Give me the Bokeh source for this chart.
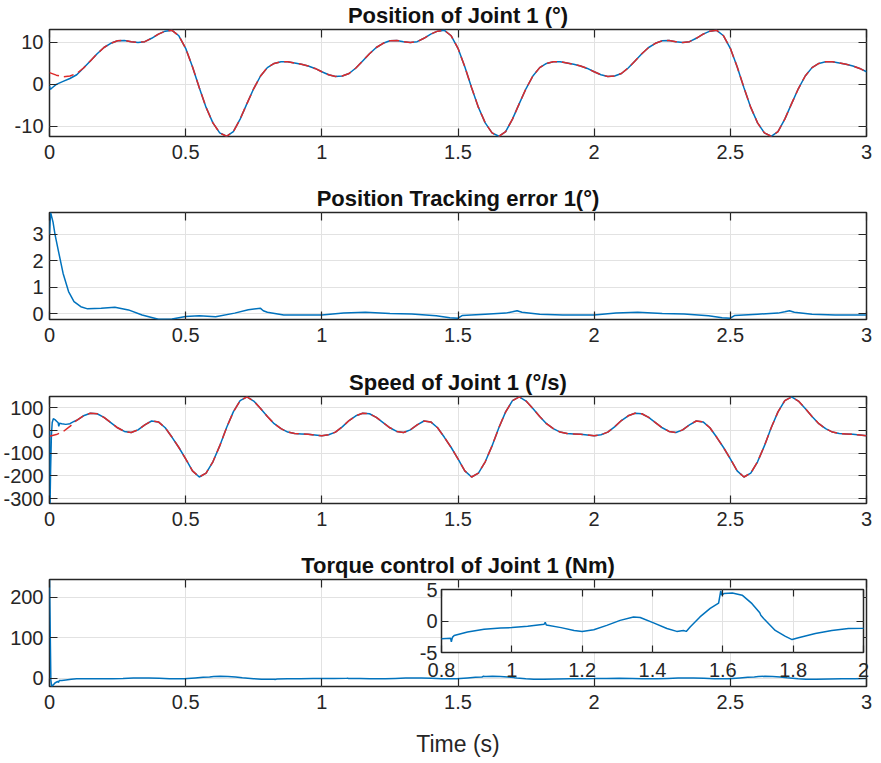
import numpy as np
from bokeh.plotting import figure
from bokeh.layouts import column
from bokeh.models import (Range1d, FixedTicker, LinearAxis, NumeralTickFormatter,
                          CustomLabelingPolicy)
from bokeh.embed import file_html
from bokeh.resources import INLINE

# ---------------- data ----------------
# reference trajectory sampled every 0.025 s over 0..3 s
t_ref = np.round(np.linspace(0.0, 3.0, 121), 3)

pos_ref = [
    2.8, 2.2, 1.8, 2.0, 2.6, 3.9, 5.6, 7.3, 8.8, 9.8,
    10.4, 10.5, 10.2, 10.0, 10.2, 11.0, 12.0, 12.7, 12.9, 11.6,
    8.6, 4.2, -0.8, -5.5, -9.2, -11.6, -12.4, -11.3, -8.3, -4.6,
    -1.0, 2.0, 4.0, 5.0, 5.4, 5.4, 5.1, 4.8, 4.4, 3.8,
    3.0, 2.3, 1.9, 2.0, 2.6, 3.9, 5.6, 7.3, 8.8, 9.8,
    10.4, 10.5, 10.2, 10.0, 10.2, 11.0, 12.0, 12.7, 12.9, 11.6,
    8.6, 4.2, -0.8, -5.5, -9.2, -11.6, -12.4, -11.3, -8.3, -4.6,
    -1.0, 2.0, 4.0, 5.0, 5.4, 5.4, 5.1, 4.8, 4.4, 3.8,
    3.0, 2.3, 1.9, 2.0, 2.6, 3.9, 5.6, 7.3, 8.8, 9.8,
    10.4, 10.5, 10.2, 10.0, 10.2, 11.0, 12.0, 12.7, 12.9, 11.6,
    8.6, 4.2, -0.8, -5.5, -9.2, -11.6, -12.4, -11.3, -8.3, -4.6,
    -1.0, 2.0, 4.0, 5.0, 5.4, 5.4, 5.1, 4.8, 4.4, 3.8,
    3.0,
]

speed_ref = [
    -25, -18, -5, 18, 45, 65, 76, 74, 58, 35,
    12, -4, -9, 3, 25, 42, 38, 12, -30, -75,
    -125, -178, -205, -188, -138, -68, 12, 82, 132, 148,
    130, 97, 62, 30, 8, -7, -13, -15, -17, -20,
    -23, -19, -7, 16, 44, 65, 76, 74, 58, 35,
    12, -4, -9, 3, 25, 42, 38, 12, -30, -75,
    -125, -178, -205, -188, -138, -68, 12, 82, 132, 148,
    130, 97, 62, 30, 8, -7, -13, -15, -17, -20,
    -23, -19, -7, 16, 44, 65, 76, 74, 58, 35,
    12, -4, -9, 3, 25, 42, 38, 12, -30, -75,
    -125, -178, -205, -188, -138, -68, 12, 82, 132, 148,
    130, 97, 62, 30, 8, -7, -13, -15, -17, -20,
    -23,
]

# measured joint response during start-up (time, value); afterwards it follows the reference
pos_start = [(0.0, -0.4), (0.003, -1.2), (0.01, -0.8), (0.025, 0.0), (0.05, 0.7),
             (0.075, 1.4), (0.1, 2.3)]
speed_start = [(0.0, 0), (0.002, -322), (0.004, -180), (0.007, -20), (0.01, 35),
               (0.014, 52), (0.02, 48), (0.027, 40), (0.032, 34), (0.034, 18),
               (0.037, 32), (0.045, 30), (0.06, 27), (0.075, 30), (0.09, 40), (0.1, 45)]

err_samples = [
    (0.0, 3.0), (0.004, 3.81), (0.013, 3.45), (0.02, 3.0), (0.033, 2.35), (0.05, 1.52),
    (0.07, 0.84), (0.09, 0.46), (0.115, 0.27), (0.14, 0.19), (0.19, 0.21), (0.24, 0.25),
    (0.29, 0.15), (0.34, -0.04), (0.4, -0.2), (0.45, -0.19), (0.5, -0.1), (0.55, -0.07),
    (0.61, -0.11), (0.68, 0.03), (0.73, 0.16), (0.775, 0.21), (0.785, 0.12), (0.8, 0.06),
    (0.86, -0.04), (0.93, -0.04), (1.0, -0.04), (1.08, 0.03), (1.16, 0.06), (1.25, 0.02),
    (1.33, 0.0), (1.42, -0.07), (1.47, -0.14), (1.5, -0.16), (1.515, -0.06), (1.6, -0.01),
    (1.675, 0.03), (1.7, 0.08), (1.717, 0.12), (1.735, 0.06), (1.8, -0.01), (1.885, -0.04),
    (2.0, -0.04), (2.08, 0.03), (2.16, 0.06), (2.25, 0.02), (2.33, 0.0), (2.42, -0.07),
    (2.47, -0.14), (2.5, -0.16), (2.515, -0.06), (2.6, -0.01), (2.675, 0.03), (2.7, 0.08),
    (2.717, 0.12), (2.735, 0.06), (2.8, -0.01), (2.885, -0.04), (3.0, -0.04),
]

torque_samples = [
    (0.0, 244), (0.002, 150), (0.005, -5), (0.008, -20.5), (0.012, -18), (0.02, -12),
    (0.03, -8), (0.033, -11), (0.036, -6), (0.045, -6), (0.06, -4.5), (0.08, -3),
    (0.1, -1.6), (0.14, -1.3), (0.177, -1.5), (0.2, -1.65), (0.233, -1.4), (0.27, -0.7),
    (0.308, 0.1), (0.346, 0.65), (0.365, 0.55), (0.403, -0.3), (0.441, -1.2), (0.469, -1.65),
    (0.496, -1.6), (0.507, -0.95), (0.535, 0.65), (0.564, 2.0), (0.588, 2.85), (0.603, 4.0),
    (0.627, 4.45), (0.655, 4.1), (0.683, 2.75), (0.708, 0.9), (0.749, -1.5), (0.778, -2.45),
    (0.797, -2.9), (0.8, -2.8), (0.826, -2.75), (0.828, -3.3), (0.831, -2.6), (0.836, -2.3),
    (0.874, -1.75), (0.921, -1.3), (0.968, -1.1), (1.0, -1.05), (1.045, -0.85), (1.092, -0.5),
    (1.095, -0.2), (1.098, -0.65), (1.14, -1.05), (1.177, -1.5), (1.2, -1.65), (1.233, -1.4),
    (1.27, -0.7), (1.308, 0.1), (1.346, 0.65), (1.365, 0.55), (1.403, -0.3), (1.441, -1.2),
    (1.469, -1.65), (1.488, -1.5), (1.496, -1.65), (1.507, -0.95), (1.535, 0.65), (1.564, 2.0),
    (1.588, 2.85), (1.594, 4.8), (1.597, 4.1), (1.603, 4.35), (1.627, 4.45), (1.655, 4.1),
    (1.683, 2.75), (1.705, 1.3), (1.708, 0.9), (1.716, 0.4), (1.749, -1.5), (1.778, -2.45),
    (1.797, -2.95), (1.815, -2.65), (1.863, -2.0), (1.91, -1.5), (1.957, -1.2), (2.0, -1.15),
    (2.045, -0.85), (2.092, -0.55), (2.14, -1.05), (2.177, -1.5), (2.2, -1.65), (2.233, -1.4),
    (2.27, -0.7), (2.308, 0.1), (2.346, 0.65), (2.365, 0.55), (2.403, -0.3), (2.441, -1.2),
    (2.469, -1.65), (2.496, -1.6), (2.507, -0.95), (2.535, 0.65), (2.564, 2.0), (2.588, 2.85),
    (2.603, 4.0), (2.627, 4.45), (2.655, 4.1), (2.683, 2.75), (2.708, 0.9), (2.749, -1.5),
    (2.778, -2.45), (2.797, -2.95), (2.815, -2.65), (2.863, -2.0), (2.91, -1.5), (2.957, -1.2),
    (3.0, -1.1),
]

x_ticks = [0, 0.5, 1, 1.5, 2, 2.5, 3]
inset_x_ticks = [0.8, 1.0, 1.2, 1.4, 1.6, 1.8, 2.0]

titles = ["Position of Joint 1 (°)", "Position Tracking error 1(°)",
          "Speed of Joint 1 (°/s)", "Torque control of Joint 1 (Nm)"]

# ---------------- styling ----------------
FONT = "Liberation Sans"
INK = "#262626"
BLUE = "#0072BD"
RED = "#DD2A2A"
GRID = "#e2e2e2"


def unzip(samples):
    return [s[0] for s in samples], [s[1] for s in samples]


def follow_after(start, ref):
    ts, vs = unzip(start)
    keep = t_ref > ts[-1]
    return ts + list(t_ref[keep]), vs + list(np.asarray(ref, dtype=float)[keep])


def tick_only_axis(ticks, tick_len):
    # an axis that only contributes inward tick marks (no labels)
    ax = LinearAxis(ticker=FixedTicker(ticks=ticks),
                    major_label_policy=CustomLabelingPolicy(code=""))
    ax.axis_line_color = None
    ax.major_tick_in = tick_len
    ax.major_tick_out = 0
    ax.major_tick_line_color = INK
    ax.major_tick_line_width = 1.2
    ax.minor_tick_line_color = None
    ax.major_label_text_font_size = "0px"
    ax.major_label_standoff = 0
    return ax


def dress(p, xt, yt, tick_len=8, label_size="20px", x_standoff=8, y_standoff=6):
    p.outline_line_color = INK
    p.outline_line_width = 1.5
    xax, yax = p.below[0], p.left[0]
    xax.ticker = FixedTicker(ticks=xt)
    yax.ticker = FixedTicker(ticks=yt)
    xax.formatter = NumeralTickFormatter(format="0.[0]")
    yax.formatter = NumeralTickFormatter(format="0.[0]")
    for ax in (xax, yax):
        ax.axis_line_color = None
        ax.major_tick_in = tick_len
        ax.major_tick_out = 0
        ax.major_tick_line_color = INK
        ax.major_tick_line_width = 1.2
        ax.minor_tick_line_color = None
        ax.major_label_text_font = FONT
        ax.major_label_text_font_size = label_size
        ax.major_label_text_color = INK
    xax.major_label_standoff = x_standoff
    yax.major_label_standoff = y_standoff
    p.grid.grid_line_color = GRID
    p.grid.grid_line_width = 1
    # tick marks along the top and right edges of the box
    p.add_layout(tick_only_axis(xt, tick_len), "above")
    p.add_layout(tick_only_axis(yt, tick_len), "right")
    return xax


def panel(title, y_lo, y_hi, yt, height, border_bottom):
    p = figure(width=881, height=height,
               x_range=Range1d(0, 3), y_range=Range1d(y_lo, y_hi),
               min_border_left=49, min_border_right=15,
               min_border_top=29, min_border_bottom=border_bottom,
               title=title, output_backend="svg", toolbar_location=None,
               background_fill_color="white", border_fill_color="white")
    p.title.text_font = FONT
    p.title.text_font_size = "22px"
    p.title.text_font_style = "bold"
    p.title.text_color = "#111111"
    p.title.align = "center"
    p.title.vertical_align = "top"
    p.title.standoff = 0
    xax = dress(p, x_ticks, yt)
    return p, xax


# ---------------- panels ----------------
p1, _ = panel(titles[0], -12.45, 13.1, [-10, 0, 10], 183, 47)
t_pa, pos_act = follow_after(pos_start, pos_ref)
p1.line(t_pa, pos_act, line_color=BLUE, line_width=1.5)
p1.line(list(t_ref), pos_ref, line_color=RED, line_width=1.5, line_dash="10 5")

p2, _ = panel(titles[1], -0.21, 3.81, [0, 1, 2, 3], 184, 48)
t_err, err = unzip(err_samples)
p2.line(t_err, err, line_color=BLUE, line_width=1.5)

p3, _ = panel(titles[2], -322, 150, [-300, -200, -100, 0, 100], 183, 47)
t_sa, speed_act = follow_after(speed_start, speed_ref)
p3.line(t_sa, speed_act, line_color=BLUE, line_width=1.5)
p3.line(list(t_ref), speed_ref, line_color=RED, line_width=1.5, line_dash="10 5")

p4, time_axis = panel(titles[3], -20.7, 244.4, [0, 100, 200], 213, 77)
t_tq, torque = unzip(torque_samples)
p4.line(t_tq, torque, line_color=BLUE, line_width=1.5)
time_axis.axis_label = "Time (s)"
time_axis.axis_label_text_font = FONT
time_axis.axis_label_text_font_size = "23px"
time_axis.axis_label_text_font_style = "normal"
time_axis.axis_label_text_color = INK
time_axis.axis_label_standoff = 19

# zoomed view of the torque between 0.8 s and 2 s, laid over the torque panel
inset = figure(width=486, height=109,
               x_range=Range1d(0.8, 2.0), y_range=Range1d(-5, 5),
               min_border_left=49, min_border_right=15, min_border_top=12, min_border_bottom=34,
               output_backend="svg", toolbar_location=None,
               background_fill_color="white", border_fill_color=None,
               styles={"position": "absolute", "left": "392px", "top": "577px", "z-index": "5"})
dress(inset, inset_x_ticks, [-5, 0, 5], tick_len=7, x_standoff=10, y_standoff=4)
inset.line(t_tq, torque, line_color=BLUE, line_width=1.5)

layout = column(p1, p2, p3, p4, inset, styles={"position": "relative"})

open("out.html", "w").write(file_html(layout, INLINE))
